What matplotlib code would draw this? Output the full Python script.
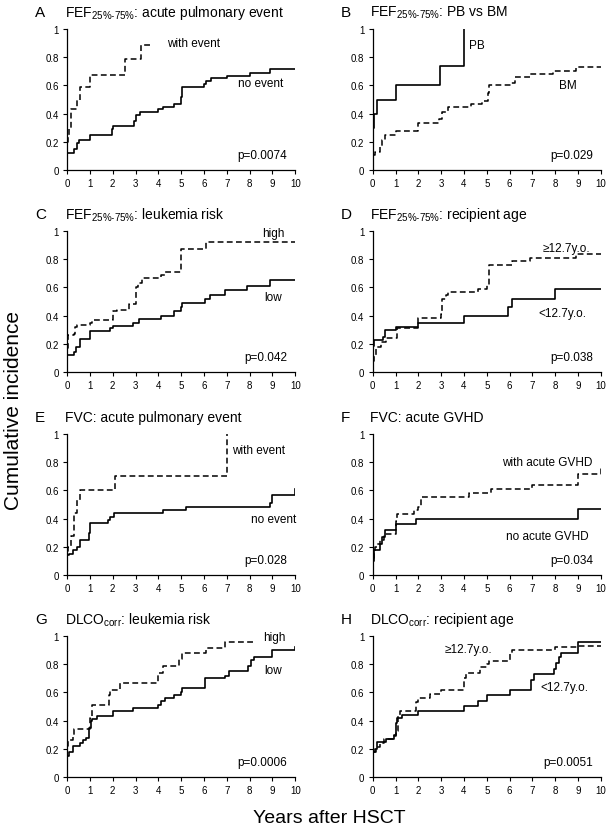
import matplotlib
matplotlib.use("Agg")
import matplotlib.pyplot as plt

plt.rcParams["font.family"] = ["Liberation Sans", "DejaVu Sans"]
plt.rcParams["mathtext.fontset"] = "custom"
plt.rcParams["mathtext.rm"] = "Liberation Sans"

# ---- data: step curves (time in years, cumulative incidence) ----
# A: FEF25-75, acute pulmonary event
a_no_t = [0, 0.3, 0.45, 0.5, 1.0, 1.95, 2.0, 2.95, 3.0, 3.2, 4.0, 4.2, 4.7, 5.0, 5.05, 6.0, 6.1, 6.3, 7.0, 8.0, 8.9, 10]
a_no_y = [0.12, 0.15, 0.19, 0.21, 0.25, 0.29, 0.31, 0.35, 0.39, 0.41, 0.43, 0.45, 0.47, 0.52, 0.59, 0.61, 0.63, 0.65, 0.67, 0.69, 0.72, 0.72]
a_ev_t = [0, 0.03, 0.08, 0.15, 0.45, 0.55, 1.0, 1.02, 2.55, 3.25, 3.65]
a_ev_y = [0.2, 0.25, 0.3, 0.43, 0.5, 0.59, 0.63, 0.675, 0.785, 0.89, 0.89]

# B: FEF25-75, PB vs BM
b_pb_t = [0, 0.05, 0.2, 1.0, 2.95, 4.0]
b_pb_y = [0.3, 0.4, 0.5, 0.6, 0.735, 1.0]
b_bm_t = [0, 0.1, 0.3, 0.4, 0.55, 1.0, 2.0, 2.9, 3.05, 3.3, 4.3, 4.8, 5.05, 5.1, 6.05, 6.25, 6.9, 7.9, 8.9, 10]
b_bm_y = [0.11, 0.13, 0.16, 0.21, 0.245, 0.28, 0.335, 0.36, 0.41, 0.45, 0.47, 0.49, 0.55, 0.6, 0.62, 0.66, 0.68, 0.705, 0.73, 0.73]

# C: FEF25-75, leukemia risk
c_hi_t = [0, 0.05, 0.3, 0.35, 0.45, 1.0, 1.1, 2.0, 2.2, 2.7, 3.0, 3.1, 3.3, 4.1, 4.3, 5.0, 6.1, 10]
c_hi_y = [0.17, 0.26, 0.27, 0.32, 0.335, 0.35, 0.37, 0.43, 0.44, 0.48, 0.6, 0.63, 0.67, 0.69, 0.71, 0.875, 0.92, 0.92]
c_lo_t = [0, 0.3, 0.4, 0.55, 1.0, 1.9, 2.0, 2.9, 3.15, 4.1, 4.7, 5.0, 5.05, 6.05, 6.25, 6.9, 7.9, 8.9, 10]
c_lo_y = [0.12, 0.14, 0.18, 0.235, 0.29, 0.31, 0.33, 0.35, 0.375, 0.4, 0.43, 0.46, 0.49, 0.52, 0.55, 0.58, 0.61, 0.65, 0.65]

# D: FEF25-75, recipient age
d_old_t = [0, 0.05, 0.15, 0.35, 0.6, 1.05, 2.0, 3.0, 3.05, 3.2, 3.3, 4.6, 5.0, 5.1, 6.1, 6.9, 8.9, 10]
d_old_y = [0.08, 0.12, 0.18, 0.21, 0.245, 0.31, 0.38, 0.41, 0.52, 0.55, 0.57, 0.59, 0.615, 0.76, 0.79, 0.81, 0.84, 0.84]
d_yng_t = [0, 0.05, 0.45, 0.55, 1.0, 2.0, 4.0, 5.95, 6.1, 8.0, 10]
d_yng_y = [0.185, 0.225, 0.25, 0.295, 0.32, 0.35, 0.4, 0.46, 0.52, 0.59, 0.59]

# E: FVC, acute pulmonary event
e_ev_t = [0, 0.05, 0.15, 0.3, 0.45, 0.55, 2.1, 7.0]
e_ev_y = [0.17, 0.2, 0.28, 0.44, 0.53, 0.6, 0.7, 1.0]
e_no_t = [0, 0.1, 0.25, 0.45, 0.55, 0.95, 1.0, 1.8, 1.9, 2.05, 4.2, 5.2, 8.9, 9.0, 10]
e_no_y = [0.14, 0.15, 0.18, 0.2, 0.25, 0.3, 0.37, 0.39, 0.41, 0.44, 0.46, 0.485, 0.51, 0.57, 0.61]

# F: FVC, acute GVHD
f_gv_t = [0, 0.05, 0.1, 0.2, 0.3, 0.5, 1.0, 1.05, 1.8, 2.0, 2.1, 4.2, 5.2, 7.0, 9.0, 10]
f_gv_y = [0.12, 0.17, 0.2, 0.22, 0.25, 0.29, 0.38, 0.435, 0.46, 0.48, 0.555, 0.58, 0.61, 0.64, 0.72, 0.76]
f_no_t = [0, 0.05, 0.3, 0.4, 0.55, 1.0, 1.9, 9.0, 10]
f_no_y = [0.1, 0.18, 0.22, 0.27, 0.32, 0.365, 0.395, 0.47, 0.47]

# G: DLCOcorr, leukemia risk
g_hi_t = [0, 0.05, 0.25, 0.3, 1.0, 1.1, 1.85, 1.9, 2.3, 4.0, 4.2, 4.9, 5.05, 6.1, 6.9, 8.3]
g_hi_y = [0.22, 0.26, 0.3, 0.34, 0.42, 0.51, 0.58, 0.62, 0.665, 0.74, 0.79, 0.84, 0.88, 0.915, 0.955, 0.955]
g_lo_t = [0, 0.1, 0.25, 0.55, 0.7, 0.85, 0.95, 1.05, 1.1, 1.3, 2.0, 2.9, 4.0, 4.1, 4.3, 4.7, 5.0, 5.05, 6.05, 6.9, 7.1, 7.95, 8.05, 8.2, 9.0, 10]
g_lo_y = [0.15, 0.18, 0.22, 0.24, 0.26, 0.28, 0.35, 0.4, 0.41, 0.43, 0.47, 0.49, 0.51, 0.54, 0.56, 0.58, 0.6, 0.63, 0.7, 0.72, 0.75, 0.79, 0.83, 0.85, 0.9, 0.92]

# H: DLCOcorr, recipient age
h_old_t = [0, 0.15, 0.3, 0.5, 0.95, 1.0, 1.1, 1.2, 1.9, 2.0, 2.5, 3.0, 4.0, 4.1, 4.7, 5.0, 5.1, 6.0, 6.1, 8.0, 9.0, 10]
h_old_y = [0.18, 0.21, 0.24, 0.27, 0.29, 0.33, 0.43, 0.47, 0.53, 0.56, 0.59, 0.62, 0.7, 0.74, 0.78, 0.8, 0.82, 0.87, 0.9, 0.92, 0.93, 0.93]
h_yng_t = [0, 0.1, 0.2, 0.6, 0.95, 1.0, 1.05, 1.3, 2.0, 4.0, 4.6, 5.0, 6.0, 6.95, 7.05, 7.95, 8.05, 8.15, 8.25, 9.0, 10]
h_yng_y = [0.18, 0.2, 0.25, 0.27, 0.3, 0.38, 0.42, 0.44, 0.47, 0.505, 0.54, 0.58, 0.62, 0.69, 0.73, 0.77, 0.81, 0.85, 0.88, 0.96, 0.96]

FEF = r"FEF$_\mathregular{25\%\text{-}75\%}$"
DLCO = r"DLCO$_\mathregular{corr}$"

# (letter, title, solid curve, dashed curve, labels [(text, x, y)], p-value)
panels = [
    ("A", FEF + ": acute pulmonary event", (a_no_t, a_no_y), (a_ev_t, a_ev_y),
     [("with event", 4.4, 0.9), ("no event", 7.5, 0.615)], "p=0.0074"),
    ("B", FEF + ": PB vs BM", (b_pb_t, b_pb_y), (b_bm_t, b_bm_y),
     [("PB", 4.2, 0.885), ("BM", 8.15, 0.6)], "p=0.029"),
    ("C", FEF + ": leukemia risk", (c_lo_t, c_lo_y), (c_hi_t, c_hi_y),
     [("high", 8.55, 0.985), ("low", 8.65, 0.53)], "p=0.042"),
    ("D", FEF + ": recipient age", (d_yng_t, d_yng_y), (d_old_t, d_old_y),
     [("\u226512.7y.o.", 7.45, 0.88), ("<12.7y.o.", 7.25, 0.42)], "p=0.038"),
    ("E", "FVC: acute pulmonary event", (e_no_t, e_no_y), (e_ev_t, e_ev_y),
     [("with event", 7.25, 0.885), ("no event", 8.05, 0.395)], "p=0.028"),
    ("F", "FVC: acute GVHD", (f_no_t, f_no_y), (f_gv_t, f_gv_y),
     [("with acute GVHD", 5.66, 0.8), ("no acute GVHD", 5.84, 0.28)], "p=0.034"),
    ("G", DLCO + ": leukemia risk", (g_lo_t, g_lo_y), (g_hi_t, g_hi_y),
     [("high", 8.6, 0.99), ("low", 8.65, 0.76)], "p=0.0006"),
    ("H", DLCO + ": recipient age", (h_yng_t, h_yng_y), (h_old_t, h_old_y),
     [("\u226512.7y.o.", 3.14, 0.91), ("<12.7y.o.", 7.37, 0.637)], "p=0.0051"),
]

fig = plt.figure(figsize=(6.1, 8.29), dpi=100)

lefts = [0.110, 0.611]
bottoms = [0.7937, 0.550, 0.3052, 0.0615]
w, h = 0.374, 0.170

for i, (letter, title, solid, dashed, labels, pval) in enumerate(panels):
    ax = fig.add_axes([lefts[i % 2], bottoms[i // 2], w, h])
    ax.step(dashed[0], dashed[1], where="post", color="black", lw=1.1,
            linestyle=(0, (3.8, 2.2)))
    ax.step(solid[0], solid[1], where="post", color="black", lw=1.2)
    ax.set_xlim(0, 10)
    ax.set_ylim(0, 1)
    ax.set_xticks(range(0, 11))
    ax.set_yticks([0, 0.2, 0.4, 0.6, 0.8, 1.0])
    ax.set_yticklabels(["0", "0.2", "0.4", "0.6", "0.8", "1"])
    ax.tick_params(labelsize=7, length=3, width=0.8, pad=3)
    for s in ("top", "right"):
        ax.spines[s].set_visible(False)
    for s in ("left", "bottom"):
        ax.spines[s].set_linewidth(0.9)
    for txt, x, y in labels:
        ax.text(x, y, txt, fontsize=8.5, va="center", ha="left")
    ax.text(9.65, 0.105, pval, fontsize=8.5, va="center", ha="right")
    ax.text(-0.14, 1.12, letter, transform=ax.transAxes, fontsize=11,
            va="center", ha="left")
    ax.text(-0.01, 1.12, title, transform=ax.transAxes, fontsize=10,
            va="center", ha="left")

fig.text(0.022, 0.505, "Cumulative incidence", rotation=90, fontsize=15,
         va="center", ha="center")
fig.text(0.54, 0.013, "Years after HSCT", fontsize=14, va="center", ha="center")

fig.savefig("out.png", dpi=100, facecolor="white")
